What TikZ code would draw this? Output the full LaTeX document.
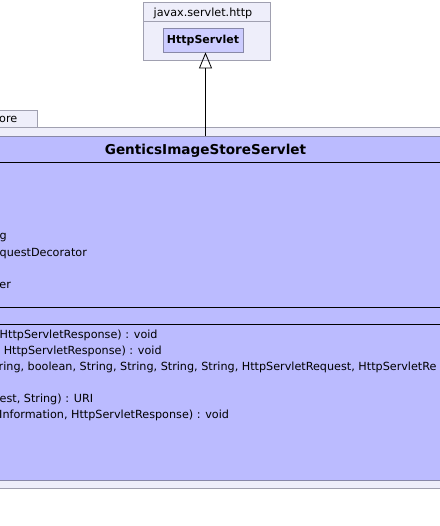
\documentclass[tikz,border=0pt]{standalone}
\usepackage{fontspec}
\setmainfont{DejaVu Sans}
\usetikzlibrary{arrows.meta}
\definecolor{pkgfill}{RGB}{238,238,250}
\definecolor{pkgline}{RGB}{160,160,176}
\definecolor{clsfill}{RGB}{187,187,255}
\definecolor{clsline}{RGB}{136,136,168}
\definecolor{hsfill}{RGB}{204,204,255}
\begin{document}
\begin{tikzpicture}[x=1pt,y=-1pt,
  pkg/.style={fill=pkgfill,draw=pkgline,line width=0.8pt},
  member/.style={anchor=base west,inner sep=0pt,font=\fontsize{11.2}{13}\selectfont},
  sep/.style={draw=black,line width=0.8pt},
  gen/.style={-{Triangle[open,width=13pt,length=16pt]},line width=0.8pt}]
\useasboundingbox[fill=white] (0,0) rectangle (439,526);
% package javax.servlet.http
\draw[pkg] (143,2) rectangle (270,60);
\draw[draw=pkgline,line width=0.8pt] (143,21) -- (270,21);
\node[anchor=base,inner sep=0pt,font=\fontsize{11.2}{13}\selectfont] (pkgname) at (203,17) {javax.servlet.http};
\node[draw=clsline,fill=hsfill,line width=0.8pt,minimum width=80pt,minimum height=24pt,inner sep=0pt,
  font=\bfseries\fontsize{11}{13}\selectfont] (hs) at (203,40) {HttpServlet};
% outer package
\fill[pkgfill] (-5,127) rectangle (445,488);
\draw[draw=pkgline,line width=0.8pt] (-5,127) -- (445,127);
\draw[draw=pkgline,line width=0.8pt] (-5,488) -- (445,488);
\draw[pkg] (-5,110) rectangle (37.7,127);
\node[member] (pkgtab) at (-1,123) {ore};
% class box
\node[fill=clsfill,draw=clsline,line width=0.8pt,minimum width=450pt,minimum height=344pt,inner sep=0pt] (cls) at (220,308) {};
\draw[sep] (-5,162) -- (445,162);
\draw[sep] (-5,307) -- (445,307);
\draw[sep] (-5,324) -- (445,324);
\node[anchor=base,inner sep=0pt,font=\bfseries\fontsize{13.6}{16}\selectfont] (clsname) at (205.5,155) {GenticsImageStoreServlet};
% attributes
\node[member] (a1) at (-0.5,240) {g};
\node[member] (a2) at (-0.5,256) {questDecorator};
\node[member] (a3) at (-0.8,288) {er};
% methods
\node[member] (m1) at (-0.5,338) {HttpServletResponse) : void};
\node[member] (m2) at (0,354) {\ HttpServletResponse) : void};
\node[member] (m3) at (-1.5,370) {ring, boolean, String, String, String, String, HttpServletRequest, HttpServletRe};
\node[member] (m4) at (-0.5,402) {est, String) : URI};
\node[member] (m5) at (-1,418) {Information, HttpServletResponse) : void};
% generalization
\draw[gen] (cls.north -| 205.5,0) -- (hs.south -| 205.5,0);
\end{tikzpicture}
\end{document}
